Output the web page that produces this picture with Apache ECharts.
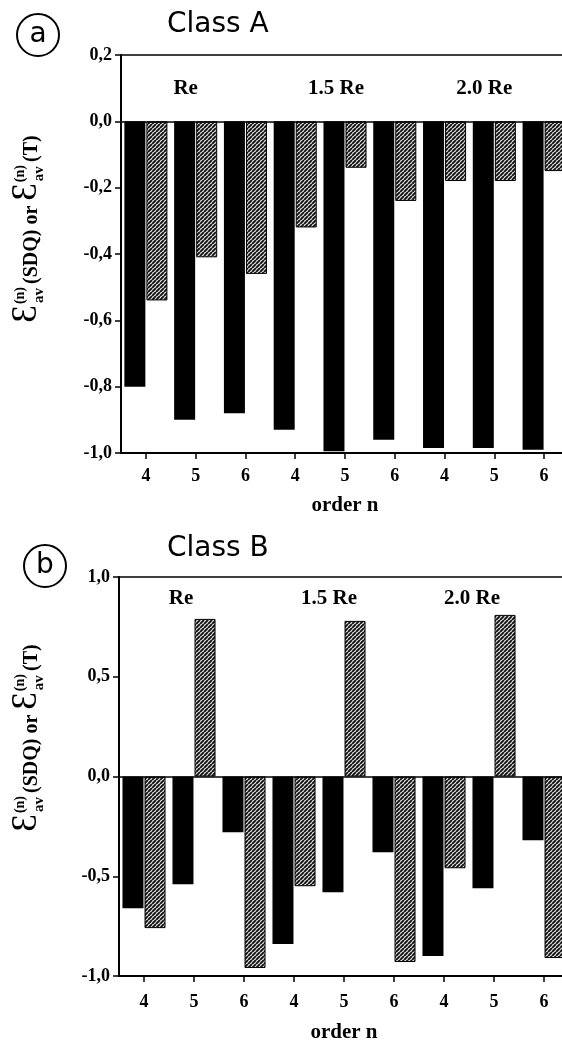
<!DOCTYPE html>
<html><head><meta charset="utf-8">
<script src="https://cdn.jsdelivr.net/npm/echarts@6/dist/echarts.min.js"></script>
<style>html,body{margin:0;padding:0;background:#fff}#c{width:562px;height:1043px}</style>
</head><body><div id="c"></div>
<script>
// ---- data ----
const groups = ['Re', '1.5 Re', '2.0 Re'];
const orders = ['4', '5', '6'];
const classA_SDQ = [-0.80, -0.90, -0.88, -0.93, -0.995, -0.96, -0.985, -0.985, -0.99];
const classA_T   = [-0.54, -0.41, -0.46, -0.32, -0.14, -0.24, -0.18, -0.18, -0.15];
const classB_SDQ = [-0.66, -0.54, -0.28, -0.84, -0.58, -0.38, -0.90, -0.56, -0.32];
const classB_T   = [-0.76, 0.79, -0.96, -0.55, 0.78, -0.93, -0.46, 0.81, -0.91];
const panelTitles = ['Class A', 'Class B'];
const panelLetters = ['a', 'b'];
const xName = 'order n';

const SERIF = '"Liberation Serif","Times New Roman","DejaVu Serif",serif';
const SANS = '"DejaVu Sans","Noto Sans",sans-serif';
const cats = groups.flatMap(g => orders.map(o => g + '|' + o));

function hatch() {
  const c = document.createElement('canvas'); c.width = 4; c.height = 4;
  const g = c.getContext('2d');
  g.fillStyle = '#e0e0e0'; g.fillRect(0, 0, 4, 4);
  g.strokeStyle = '#111'; g.lineWidth = 1.9;
  g.beginPath();
  for (const o of [-4, 0, 4]) { g.moveTo(o, 4); g.lineTo(o + 4, 0); }
  g.stroke();
  return c;
}
const hatchPattern = { image: hatch(), repeat: 'repeat' };

function yTitle(cx, cy) {
  const ctx = document.createElement('canvas').getContext('2d');
  const st = {
    big: { fontSize: 35, fontWeight: 'normal', dy: -5 },
    main: { fontSize: 20, fontWeight: 'bold', dy: 0 },
    sup: { fontSize: 14, fontWeight: 'bold', dy: -12 },
    sub: { fontSize: 15, fontWeight: 'bold', dy: 7 }
  };
  const meas = (s, t) => { ctx.font = s.fontWeight + ' ' + s.fontSize + 'px ' + SERIF; return ctx.measureText(t).width; };
  const parts = [['big', 'Ɛ'], ['stack'], ['main', '(SDQ) or '], ['big', 'Ɛ'], ['stack'], ['main', '(T)']];
  const children = []; let x = 0;
  const add = (k, t, xx) => children.push({ type: 'text', x: xx, y: st[k].dy, style: { text: t, fontSize: st[k].fontSize, fontWeight: st[k].fontWeight, fontFamily: SERIF, fill: '#000', align: 'left', verticalAlign: 'middle' } });
  for (const p of parts) {
    if (p[0] === 'stack') {
      add('sup', '(n)', x + 1); add('sub', 'av', x + 2);
      x += Math.max(meas(st.sup, '(n)') + 1, meas(st.sub, 'av') + 2) + 3;
    } else { add(p[0], p[1], x); x += meas(st[p[0]], p[1]); }
  }
  children.forEach(c => c.x -= x / 2);
  return { type: 'group', x: cx, y: cy, rotation: Math.PI / 2, children };
}

const grids = [
  { left: 121, top: 55, width: 448, height: 398 },
  { left: 119, top: 577, width: 450, height: 399 }
];
const yAx = [{ min: -1, max: 0.2, interval: 0.2 }, { min: -1, max: 1, interval: 0.5 }];
const labelY = [0.1, 0.89];
const labelOff = [[1, 2, 1], [-2, -4, -11]];
const nameGap = [42, 46];
const labMargin = [14, 17];
const data = [[classA_SDQ, classA_T], [classB_SDQ, classB_T]];

const option = {
  animation: false,
  backgroundColor: '#fff',
  grid: grids.map(g => Object.assign({ show: true, borderColor: '#000', borderWidth: 1.5, backgroundColor: 'transparent', containLabel: false, outerBoundsMode: 'none' }, g)),
  xAxis: [0, 1].map(i => ({
    type: 'category', gridIndex: i, data: cats,
    axisLine: { show: true, onZero: false, lineStyle: { color: '#000', width: 2 } },
    axisTick: { show: true, alignWithLabel: true, length: 6, lineStyle: { color: '#000', width: 1.5 } },
    axisLabel: { formatter: v => v.split('|')[1], color: '#000', fontFamily: SERIF, fontWeight: 'bold', fontSize: 18, margin: labMargin[i] },
    splitLine: { show: false },
    name: xName, nameLocation: 'middle', nameGap: nameGap[i],
    nameTextStyle: { color: '#000', fontFamily: SERIF, fontWeight: 'bold', fontSize: 21 }
  })),
  yAxis: [0, 1].map(i => Object.assign({
    type: 'value', gridIndex: i,
    axisLine: { show: true, lineStyle: { color: '#000', width: 2 } },
    axisTick: { show: true, length: 6, lineStyle: { color: '#000', width: 1.5 } },
    axisLabel: { formatter: v => v.toFixed(1).replace('.', ','), color: '#000', fontFamily: SERIF, fontWeight: 'bold', fontSize: 18, margin: 9 },
    splitLine: { show: false }
  }, yAx[i])),
  series: [],
  graphic: []
};

[0, 1].forEach(i => {
  option.series.push({
    type: 'bar', xAxisIndex: i, yAxisIndex: i, data: data[i][0],
    barWidth: 21, barGap: '5%',
    itemStyle: { color: '#000' },
    markLine: { silent: true, symbol: ['none', 'none'], label: { show: false }, lineStyle: { color: '#000', width: 1.5, type: 'solid' }, data: [{ yAxis: 0 }] },
    markPoint: {
      symbol: 'circle', symbolSize: 0,
      label: { show: true, formatter: '{b}', color: '#000', fontFamily: SERIF, fontWeight: 'bold', fontSize: 21 },
      data: groups.map((g, k) => ({ name: g, coord: [k * 3 + 1, labelY[i]], label: { offset: [labelOff[i][k], 0] } }))
    }
  });
  option.series.push({
    type: 'bar', xAxisIndex: i, yAxisIndex: i, data: data[i][1],
    barWidth: 21, barGap: '5%',
    itemStyle: { color: hatchPattern, borderColor: '#000', borderWidth: 1 }
  });
});

const titleY = [25, 549];
const circ = [[38, 35], [45, 566]];
const yTitleY = [229, 738];
[0, 1].forEach(i => {
  option.graphic.push({ type: 'text', x: 167, y: titleY[i], style: { text: panelTitles[i], fontFamily: SANS, fontSize: 28, fill: '#000', align: 'left', verticalAlign: 'middle' } });
  option.graphic.push({ type: 'circle', shape: { cx: circ[i][0], cy: circ[i][1], r: 21 }, style: { fill: 'none', stroke: '#000', lineWidth: 2 } });
  option.graphic.push({ type: 'text', x: circ[i][0], y: circ[i][1], style: { text: panelLetters[i], fontFamily: SANS, fontSize: 28, fill: '#000', align: 'center', verticalAlign: 'middle' } });
  option.graphic.push(yTitle(32, yTitleY[i]));
});

const chart = echarts.init(document.getElementById('c'), null, { renderer: 'canvas' });
chart.setOption(option);
</script></body></html>
